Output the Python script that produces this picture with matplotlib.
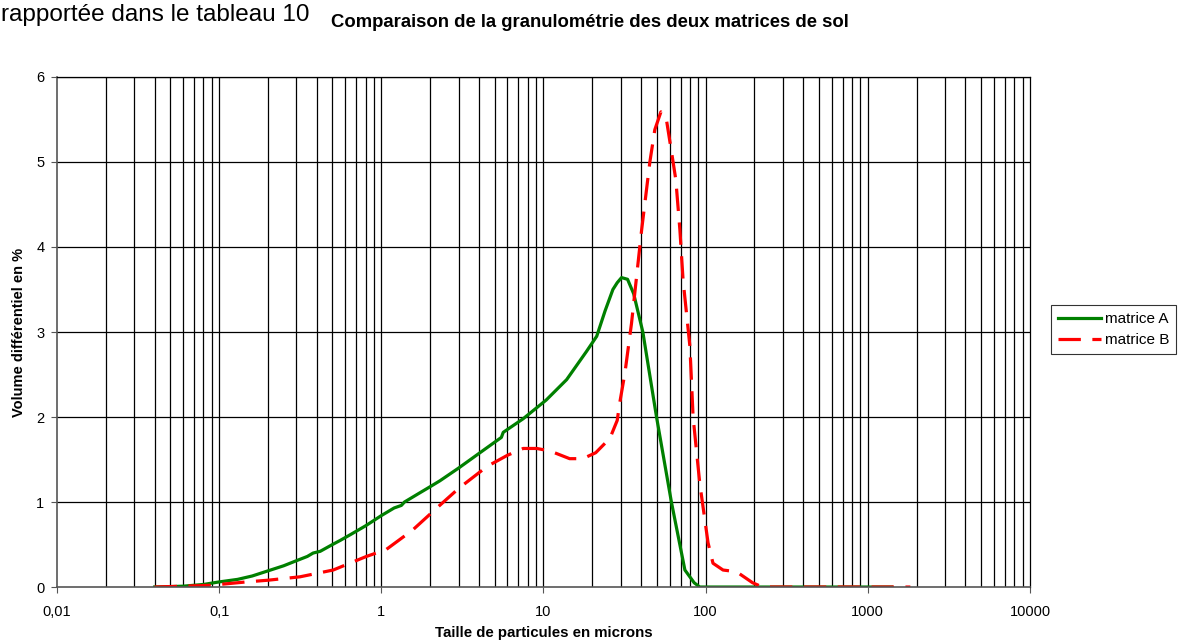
import numpy as np
import matplotlib.pyplot as plt
from matplotlib.ticker import FixedLocator, NullFormatter, NullLocator

plt.rcParams['font.family'] = ['Liberation Sans', 'DejaVu Sans']

# matrice A (green, solid)
xa = [0.04, 0.05, 0.06, 0.08, 0.1, 0.13, 0.16, 0.2, 0.25, 0.3, 0.35, 0.38,
      0.42, 0.5, 0.56, 0.65, 0.8, 1.0, 1.2, 1.33, 1.39, 1.7, 2.0, 2.3, 3.0,
      4.06, 5.14, 5.5, 5.65, 7.5, 10.4, 13.9, 18.4, 21.3, 24.0, 26.8, 28.5,
      30.3, 33.0, 36.0, 41.0, 49.8, 61.5, 74.5, 85.0, 92.0, 100.0, 200.0,
      500.0, 1000.0, 1400.0]
ya = [0.0, 0.005, 0.01, 0.03, 0.06, 0.09, 0.13, 0.19, 0.25, 0.31, 0.36, 0.4,
      0.42, 0.5, 0.55, 0.62, 0.72, 0.84, 0.93, 0.96, 1.0, 1.1, 1.18, 1.25, 1.4,
      1.58, 1.72, 1.76, 1.82, 1.98, 2.2, 2.44, 2.77, 2.95, 3.25, 3.5, 3.58,
      3.64, 3.62, 3.45, 3.0, 2.0, 1.0, 0.2, 0.05, 0.0, 0.0, 0.0,
      0.0, 0.0, 0.0]

# matrice B (red, dashed)
xb = [0.04, 0.06, 0.088, 0.147, 0.2, 0.315, 0.505, 0.81, 1.07, 1.56, 2.2,
      3.0, 4.5, 6.0, 7.5, 9.1, 11.0, 14.5, 17.5, 21.0, 25.7, 28.5, 29.5,
      31.8, 34.9, 40.3, 45.3, 48.6, 53.0, 57.4, 61.6, 65.5, 69.4, 72.6,
      80.0, 83.7, 92.0, 103.5, 111.0, 128.0, 155.0, 195.0, 224.0, 500.0,
      1000.0, 1830.0]
yb = [0.0, 0.01, 0.02, 0.06, 0.08, 0.12, 0.2, 0.36, 0.44, 0.67, 0.93,
      1.16, 1.42, 1.55, 1.63, 1.63, 1.6, 1.51, 1.51, 1.58, 1.75, 1.96, 2.16,
      2.52, 3.1, 4.2, 5.0, 5.38, 5.59, 5.49, 5.12, 4.79, 4.2, 3.61,
      2.83, 2.0, 1.22, 0.52, 0.28, 0.2, 0.18, 0.05, 0.0, 0.0,
      0.0, 0.0]

xticks = [0.01, 0.1, 1, 10, 100, 1000, 10000]
xticklabels = ['0,01', '0,1', '1', '10', '100', '1000', '10000']

fig = plt.figure(figsize=(11.79, 6.41), dpi=100)
ax = fig.add_axes([0.0483, 0.0842, 0.8253, 0.7957])

ax.plot(xa, ya, color='#008000', lw=2.3, label='matrice A')
ax.plot(xb, yb, color='#ff0000', lw=2.3, dashes=(7.0, 3.6), label='matrice B')

ax.set_xscale('log')
ax.set_xlim(0.01, 10000)
ax.set_ylim(0, 6)

# vertical grid at every minor decade step
grid_x = [m * 10.0 ** k for k in range(-2, 4) for m in range(1, 10)][1:]
for gx in grid_x:
    ax.axvline(gx, color='black', lw=0.9, zorder=0.5)
for gy in range(1, 7):
    ax.axhline(gy, color='black', lw=0.9, zorder=0.5)

ax.xaxis.set_major_locator(FixedLocator(xticks))
ax.set_xticklabels(xticklabels)
ax.xaxis.set_minor_locator(NullLocator())
ax.xaxis.set_minor_formatter(NullFormatter())
ax.set_yticks(range(0, 7))
ax.tick_params(axis='both', labelsize=10.5, length=4, width=0.8, color='#555555')
ax.tick_params(axis='x', pad=9)
ax.tick_params(axis='y', pad=5)

for side in ['top', 'right']:
    ax.spines[side].set_color('black')
    ax.spines[side].set_linewidth(0.9)
for side in ['left', 'bottom']:
    ax.spines[side].set_color('#555555')
    ax.spines[side].set_linewidth(1.2)

ax.set_xlabel('Taille de particules en microns', fontsize=10.8, fontweight='bold',
              labelpad=5)
ax.set_ylabel('Volume différentiel en %', fontsize=10.5, fontweight='bold',
              labelpad=7)

leg = ax.legend(loc='center left', bbox_to_anchor=(1.022, 0.505), fontsize=11,
                frameon=True, fancybox=False, borderpad=0.45, handlelength=2.8,
                handletextpad=0.25, labelspacing=0.45, borderaxespad=0)
leg.get_frame().set_edgecolor('black')
leg.get_frame().set_linewidth(0.8)

fig.text(0.001, 0.967, 'rapportée dans le tableau 10', fontsize=17.5,
         va='baseline', ha='left')
fig.text(0.5, 0.958, 'Comparaison de la granulométrie des deux matrices de sol',
         fontsize=13.3, fontweight='bold', ha='center', va='baseline')

fig.savefig('out.png', dpi=100)
